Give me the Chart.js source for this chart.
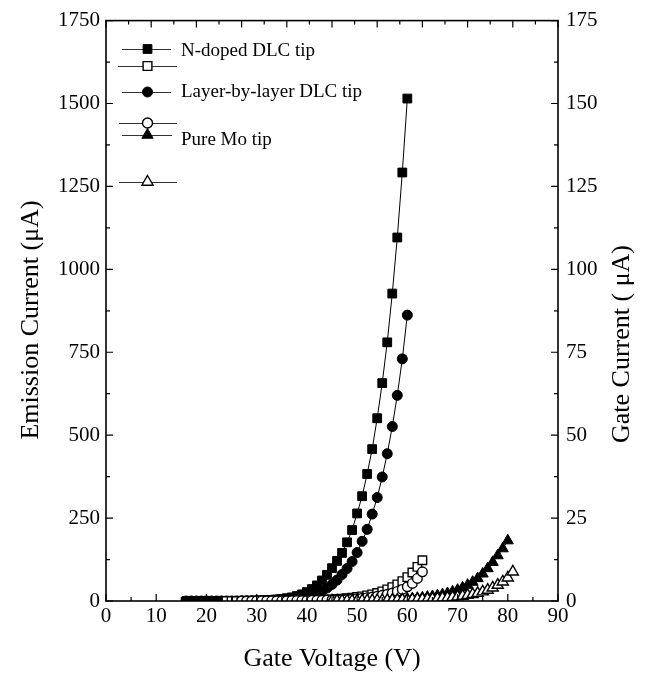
<!DOCTYPE html>
<html><head><meta charset="utf-8">
<script src="https://cdn.jsdelivr.net/npm/chart.js@4/dist/chart.umd.min.js"></script>
<style>html,body{margin:0;padding:0;background:#fff;}canvas{display:block;}</style>
</head><body>
<canvas id="c" width="649" height="675"></canvas>
<script>
// ---- data ----
const xTickLabels = [0,10,20,30,40,50,60,70,80,90];
const yLeftTickLabels = [0,250,500,750,1000,1250,1500,1750];
const yRightTickLabels = [0,25,50,75,100,125,150,175];

const seriesNames = ["N-doped DLC tip", "Layer-by-layer DLC tip", "Pure Mo tip"];

// N-doped DLC tip: emission current (uA, left axis)
const nDopedVoltage = [16,17,18,19,20,21,22,23,24,25,26,27,28,29,30,31,32,33,34,35,36,37,38,39,40,41,42,43,44,45,46,47,48,49,50,51,52,53,54,55,56,57,58,59,60];
const nDopedEmission = [0,0,0,0,0,0,0,0,0.1,0.2,0.3,0.5,0.7,1,1.4,2,2.7,3.6,4.8,6.3,8.5,11,15,20,27,36,47,62,79,99,121,145,177,214,264,316,383,458,551,657,780,927,1096,1292,1515];
// N-doped DLC tip: gate current (uA, right axis)
const nDopedGateVoltage = [24,25,26,27,28,29,30,31,32,33,34,35,36,37,38,39,40,41,42,43,44,45,46,47,48,49,50,51,52,53,54,55,56,57,58,59,60,61,62,63];
const nDopedGate = [0,0,0,0,0.02,0.03,0.04,0.05,0.06,0.07,0.08,0.09,0.1,0.12,0.14,0.17,0.2,0.25,0.3,0.35,0.42,0.5,0.6,0.7,0.85,1.0,1.2,1.4,1.7,2.0,2.4,2.9,3.5,4.2,5.0,6.0,7.2,8.6,10.3,12.3];

// Layer-by-layer DLC tip
const layerVoltage = [16,17,18,19,20,21,22,23,24,25,26,27,28,29,30,31,32,33,34,35,36,37,38,39,40,41,42,43,44,45,46,47,48,49,50,51,52,53,54,55,56,57,58,59,60];
const layerEmission = [0,0,0,0,0,0,0,0.1,0.1,0.2,0.3,0.4,0.5,0.7,0.9,1.2,1.6,2.1,2.8,3.6,4.7,6.1,8,10.5,13.5,17.5,23,30,39,50,63,80,98,119,146,180,216,262,312,374,444,526,620,730,862];
const layerGateVoltage = [27,28,29,30,31,32,33,34,35,36,37,38,39,40,41,42,43,44,45,46,47,48,49,50,51,52,53,54,55,56,57,58,59,60,61,62,63];
const layerGate = [0,0,0,0.02,0.03,0.04,0.05,0.06,0.07,0.08,0.09,0.1,0.12,0.14,0.16,0.19,0.22,0.26,0.3,0.35,0.42,0.5,0.6,0.7,0.85,1.0,1.2,1.4,1.7,2.0,2.4,2.9,3.5,4.3,5.3,6.8,8.8];

// Pure Mo tip
const moVoltage = [42,43,44,45,46,47,48,49,50,51,52,53,54,55,56,57,58,59,60,61,62,63,64,65,66,67,68,69,70,71,72,73,74,75,76,77,78,79,80];
const moEmission = [0.3,0.4,0.5,0.6,0.7,0.8,1,1.2,1.4,1.6,1.9,2.2,2.6,3,3.5,4,4.6,5.4,6.3,7.3,8.5,10,12,14,16.5,19.5,23,28,33,40,48,57,68,82,98,117,137,158,182];
const moGateVoltage = [45,46,47,48,49,50,51,52,53,54,55,56,57,58,59,60,61,62,63,64,65,66,67,68,69,70,71,72,73,74,75,76,77,78,79,80,81];
const moGate = [0.05,0.06,0.07,0.08,0.09,0.1,0.12,0.14,0.16,0.18,0.2,0.23,0.26,0.3,0.34,0.38,0.43,0.48,0.54,0.6,0.68,0.77,0.87,1.0,1.15,1.3,1.5,1.75,2.0,2.35,2.8,3.3,4.0,4.8,5.8,7.0,8.8];

// ---- chart ----
const FONT = "'Liberation Serif','Times New Roman',serif";
function pts(xs, ys){ return xs.map((x,i)=>({x:x, y:ys[i]})); }

function ds(label, xs, ys, axis, style, filled, radius, order){
  return {
    label: label, data: pts(xs, ys), yAxisID: axis,
    borderColor: '#000', borderWidth: 1, showLine: true, fill: false, tension: 0,
    pointStyle: style, pointRadius: radius, pointHoverRadius: radius,
    pointBackgroundColor: filled ? '#000' : '#fff', pointBorderColor: '#000',
    pointBorderWidth: filled ? 1 : 1.4, order: order
  };
}

const datasets = [
  ds(seriesNames[0], nDopedVoltage, nDopedEmission, 'y', 'rect', true, 6.2, 6),
  ds(seriesNames[1], layerVoltage, layerEmission, 'y', 'circle', true, 5, 5),
  ds(seriesNames[2], moVoltage, moEmission, 'y', 'triangle', true, 6.4, 4),
  ds(seriesNames[0] + ' gate', nDopedGateVoltage, nDopedGate, 'y2', 'rect', false, 6, 3),
  ds(seriesNames[1] + ' gate', layerGateVoltage, layerGate, 'y2', 'circle', false, 4.8, 2),
  ds(seriesNames[2] + ' gate', moGateVoltage, moGate, 'y2', 'triangle', false, 6.4, 1)
];

function marker(ctx, style, filled, x, y, r){
  ctx.save();
  ctx.beginPath();
  if (style === 'rect'){ const s = r*Math.SQRT1_2; ctx.rect(x-s, y-s, 2*s, 2*s); }
  else if (style === 'circle'){ ctx.arc(x, y, r, 0, Math.PI*2); }
  else {
    let a = 0;
    ctx.moveTo(x + Math.sin(a)*r, y - Math.cos(a)*r);
    a += 2*Math.PI/3; ctx.lineTo(x + Math.sin(a)*r, y - Math.cos(a)*r);
    a += 2*Math.PI/3; ctx.lineTo(x + Math.sin(a)*r, y - Math.cos(a)*r);
    ctx.closePath();
  }
  ctx.fillStyle = filled ? '#000' : '#fff';
  ctx.fill();
  ctx.lineWidth = filled ? 1 : 1.4;
  ctx.strokeStyle = '#000';
  ctx.stroke();
  ctx.restore();
}

const decor = {
  id: 'decor',
  afterDraw(chart){
    const ctx = chart.ctx, ca = chart.chartArea;
    const sx = chart.scales.x, sy = chart.scales.y, sy2 = chart.scales.y2;
    ctx.save();
    ctx.strokeStyle = '#000';
    // frame
    ctx.lineWidth = 1.6;
    ctx.strokeRect(ca.left, ca.top, ca.right - ca.left, ca.bottom - ca.top);
    ctx.lineWidth = 1.2;
    ctx.beginPath();
    // bottom ticks (major 10, minor 5), inward
    for (let v = 0; v <= 90; v += 5){
      const px = sx.getPixelForValue(v), len = (v % 10 === 0) ? 7 : 4;
      ctx.moveTo(px, ca.bottom); ctx.lineTo(px, ca.bottom - len);
    }
    // top ticks (20 divisions)
    for (let k = 0; k <= 20; k++){
      const px = ca.left + (ca.right - ca.left) * k / 20, len = (k % 2 === 0) ? 7 : 4;
      ctx.moveTo(px, ca.top); ctx.lineTo(px, ca.top + len);
    }
    // left ticks
    for (let v = 0; v <= 1750; v += 125){
      const py = sy.getPixelForValue(v), len = (v % 250 === 0) ? 7 : 4;
      ctx.moveTo(ca.left, py); ctx.lineTo(ca.left + len, py);
    }
    // right ticks
    for (let v = 0; v <= 175; v += 12.5){
      const py = sy2.getPixelForValue(v), len = (v % 25 === 0) ? 7 : 4;
      ctx.moveTo(ca.right, py); ctx.lineTo(ca.right - len, py);
    }
    ctx.stroke();

    // legend
    const rows = [
      {y: 49, style: 'rect', filled: true, x0: 122, x1: 171, text: seriesNames[0], ty: 51},
      {y: 66, style: 'rect', filled: false, x0: 118, x1: 177},
      {y: 92, style: 'circle', filled: true, x0: 122, x1: 171, text: seriesNames[1], ty: 92},
      {y: 123, style: 'circle', filled: false, x0: 119, x1: 177},
      {y: 135, style: 'triangle', filled: true, x0: 122, x1: 172, text: seriesNames[2], ty: 140},
      {y: 182, style: 'triangle', filled: false, x0: 119, x1: 177}
    ];
    ctx.font = "19px " + FONT;
    ctx.fillStyle = '#000';
    ctx.textBaseline = 'middle';
    ctx.textAlign = 'left';
    rows.forEach(r => {
      ctx.beginPath();
      ctx.strokeStyle = '#333'; ctx.lineWidth = 1;
      ctx.moveTo(r.x0, r.y + 0.5); ctx.lineTo(r.x1, r.y + 0.5); ctx.stroke();
      const rad = r.style === 'rect' ? 6.2 : (r.style === 'circle' ? 5 : 6.5);
      marker(ctx, r.style, r.filled, 147.5, r.y, rad);
      if (r.text){ ctx.fillStyle = '#000'; ctx.fillText(r.text, 181, r.ty); }
    });

    // vertical axis titles
    ctx.font = "26px " + FONT;
    ctx.fillStyle = '#000';
    ctx.textAlign = 'center';
    ctx.textBaseline = 'middle';
    ctx.save(); ctx.translate(31, 320); ctx.rotate(-Math.PI/2);
    ctx.fillText('Emission Current (\u03bcA)', 0, 0); ctx.restore();
    ctx.save(); ctx.translate(622, 344); ctx.rotate(-Math.PI/2);
    ctx.fillText('Gate Current ( \u03bcA)', 0, 0); ctx.restore();
    ctx.restore();
  }
};

const plain = v => String(v);

new Chart(document.getElementById('c'), {
  type: 'line',
  data: { datasets: datasets },
  options: {
    responsive: false, animation: false, devicePixelRatio: 1,
    layout: { padding: { top: 20, left: 0, right: 0, bottom: 0 } },
    plugins: { legend: { display: false }, tooltip: { enabled: false } },
    elements: { line: { borderWidth: 1 } },
    scales: {
      x: {
        type: 'linear', position: 'bottom', min: 0, max: 90,
        afterBuildTicks: s => { s.ticks = xTickLabels.map(v => ({value: v})); },
        ticks: { font: { family: FONT, size: 21 }, color: '#000', padding: 3, maxRotation: 0, autoSkip: false, callback: plain },
        grid: { display: false, drawTicks: false },
        border: { display: false },
        title: { display: true, text: 'Gate Voltage (V)', color: '#000', font: { family: FONT, size: 26 }, padding: { top: 0, bottom: 0 } },
        afterFit: s => { s.height = 74; }
      },
      y: {
        type: 'linear', position: 'left', min: 0, max: 1750,
        afterBuildTicks: s => { s.ticks = yLeftTickLabels.map(v => ({value: v})); },
        ticks: { font: { family: FONT, size: 21 }, color: '#000', padding: 6, autoSkip: false, callback: plain },
        grid: { display: false, drawTicks: false },
        border: { display: false },
        afterFit: s => { s.width = 106; }
      },
      y2: {
        type: 'linear', position: 'right', min: 0, max: 175,
        afterBuildTicks: s => { s.ticks = yRightTickLabels.map(v => ({value: v})); },
        ticks: { font: { family: FONT, size: 21 }, color: '#000', padding: 8, autoSkip: false, callback: plain },
        grid: { display: false, drawTicks: false },
        border: { display: false },
        afterFit: s => { s.width = 91; }
      }
    }
  },
  plugins: [decor]
});
</script>
</body></html>
